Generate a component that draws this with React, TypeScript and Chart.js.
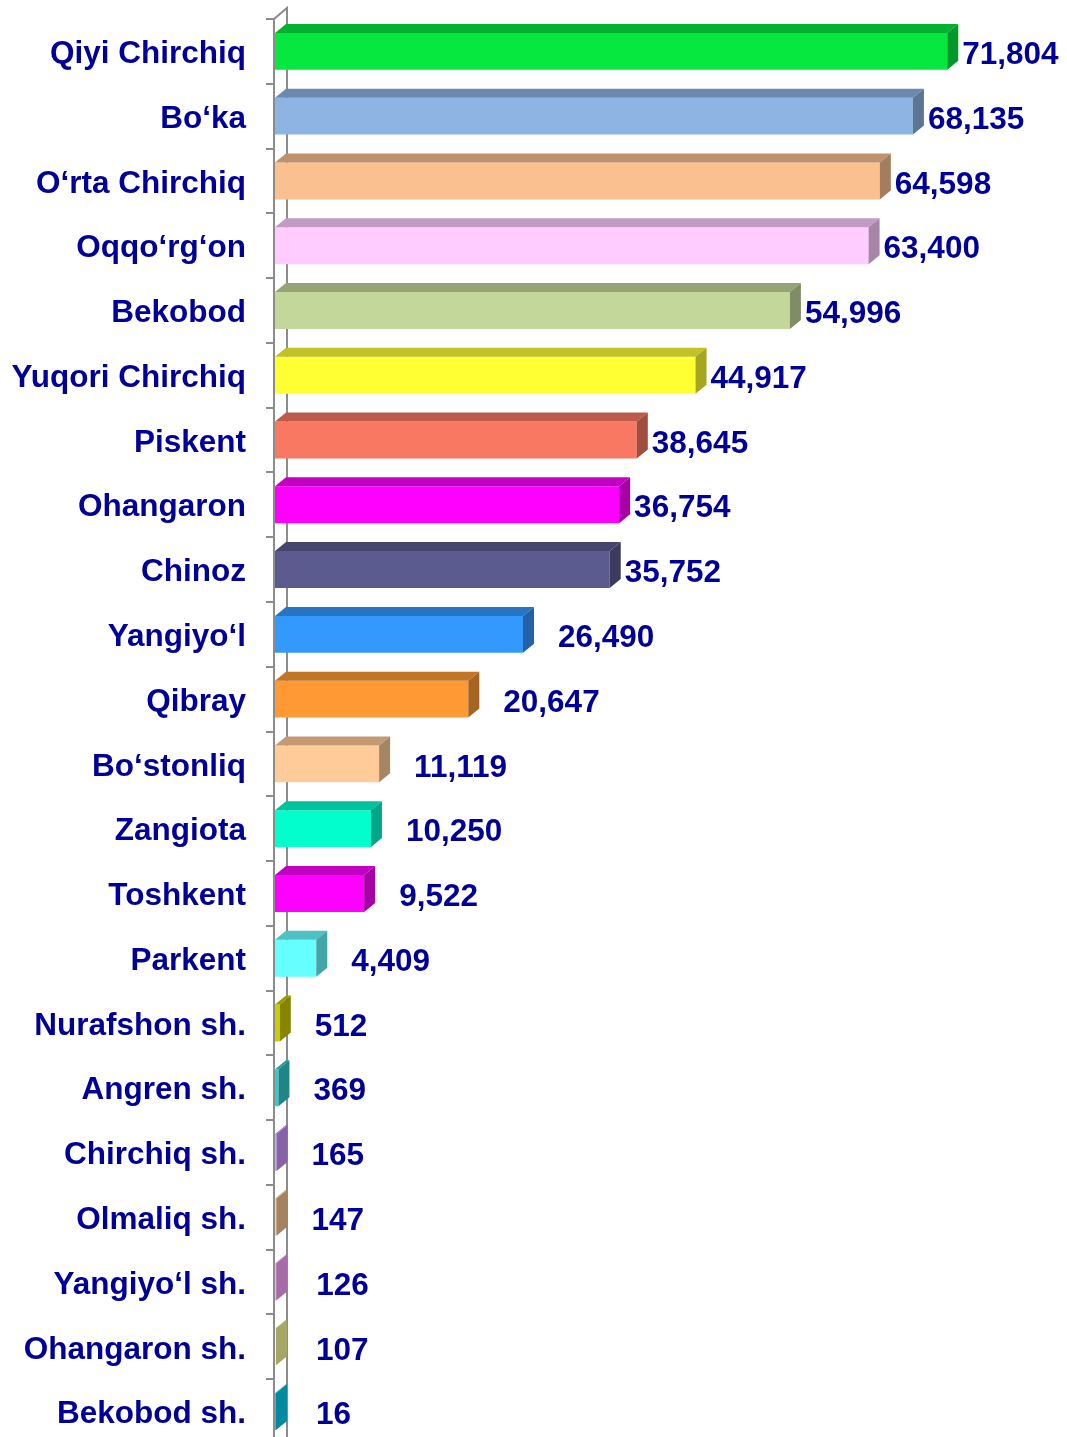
import React, { useEffect, useRef } from "react";
import { Chart, registerables } from "chart.js";

Chart.register(...registerables);

const categories = [
  "Qiyi Chirchiq", "Bo‘ka", "O‘rta Chirchiq", "Oqqo‘rg‘on", "Bekobod", "Yuqori Chirchiq",
  "Piskent", "Ohangaron", "Chinoz", "Yangiyo‘l", "Qibray", "Bo‘stonliq", "Zangiota",
  "Toshkent", "Parkent", "Nurafshon sh.", "Angren sh.", "Chirchiq sh.", "Olmaliq sh.",
  "Yangiyo‘l sh.", "Ohangaron sh.", "Bekobod sh.",
];

const values = [
  71804, 68135, 64598, 63400, 54996, 44917, 38645, 36754, 35752, 26490, 20647, 11119,
  10250, 9522, 4409, 512, 369, 165, 147, 126, 107, 16,
];

const frontColors = [
  "#06E840", "#8DB4E2", "#FAC090", "#FFCCFF", "#C4D79B", "#FFFF33", "#F87862", "#FF00FF",
  "#5B5B8F", "#3399FF", "#FF9933", "#FFCC99", "#00FFCC", "#FF00FF", "#66FFFF", "#CCCC00",
  "#33CCCC", "#CC99FF", "#FFCA92", "#FFA5FF", "#FFFF9C", "#00D2F5",
];

const TEXT_COLOR = "#000099";
const FONT = "bold 31.5px 'Liberation Sans', Arial, sans-serif";
const DX = 11;
const DY = 9;

function shade(hex: string, f: number): string {
  const n = parseInt(hex.slice(1), 16);
  const r = Math.round(((n >> 16) & 255) * f);
  const g = Math.round(((n >> 8) & 255) * f);
  const b = Math.round((n & 255) * f);
  return `rgb(${r},${g},${b})`;
}

const wallPlugin = {
  id: "wall",
  beforeDatasetsDraw(chart: any) {
    const { ctx, chartArea, scales } = chart;
    const yS = scales.y;
    const left = chartArea.left - 1;
    const top = chartArea.top;
    const bottom = chartArea.bottom;
    ctx.save();
    ctx.strokeStyle = "#8C8C8C";
    ctx.lineWidth = 2;
    ctx.beginPath();
    ctx.moveTo(left, bottom);
    ctx.lineTo(left, top);
    ctx.lineTo(left + 13, top - 11);
    ctx.lineTo(left + 13, bottom);
    ctx.stroke();
    ctx.beginPath();
    for (let i = 0; i <= categories.length; i++) {
      const yy = yS.getPixelForValue(i - 0.5);
      ctx.moveTo(left - 8, Math.round(yy));
      ctx.lineTo(left, Math.round(yy));
    }
    ctx.stroke();
    ctx.restore();
  },
};

const faces3dPlugin = {
  id: "faces3d",
  afterDatasetsDraw(chart: any) {
    const { ctx, scales } = chart;
    const meta = chart.getDatasetMeta(0);
    ctx.save();
    meta.data.forEach((bar: any, i: number) => {
      const { x, y, base, height } = bar.getProps(["x", "y", "base", "height"], true);
      const t = y - height / 2;
      const b = y + height / 2;
      const c = frontColors[i];
      ctx.fillStyle = shade(c, 0.76);
      ctx.beginPath();
      ctx.moveTo(base, t);
      ctx.lineTo(base + DX, t - DY);
      ctx.lineTo(x + DX, t - DY);
      ctx.lineTo(x, t);
      ctx.closePath();
      ctx.fill();
      ctx.fillStyle = shade(c, 0.65);
      ctx.beginPath();
      ctx.moveTo(x, t);
      ctx.lineTo(x + DX, t - DY);
      ctx.lineTo(x + DX, b - DY);
      ctx.lineTo(x, b);
      ctx.closePath();
      ctx.fill();
    });

    ctx.font = FONT;
    ctx.fillStyle = TEXT_COLOR;
    ctx.textBaseline = "middle";
    ctx.textAlign = "left";
    meta.data.forEach((bar: any, i: number) => {
      const { x, y } = bar.getProps(["x", "y"], true);
      const gap = values[i] >= 30000 ? 4 : values[i] < 140 ? 29 : 24;
      ctx.fillText(values[i].toLocaleString("en-US"), x + DX + gap, y + 4);
    });

    const yS = scales.y;
    ctx.textAlign = "right";
    categories.forEach((cat, i) => {
      ctx.fillText(cat, 246, yS.getPixelForValue(i) + 3);
    });
    ctx.restore();
  },
};

export default function App() {
  const ref = useRef<HTMLCanvasElement | null>(null);
  useEffect(() => {
    if (!ref.current) return;
    const chart = new Chart(ref.current, {
      type: "bar",
      data: {
        labels: categories,
        datasets: [
          {
            data: values,
            backgroundColor: frontColors,
            borderWidth: 0,
            barPercentage: 0.57,
            categoryPercentage: 1,
            minBarLength: 1,
          },
        ],
      },
      options: {
        indexAxis: "y",
        responsive: false,
        animation: false,
        devicePixelRatio: 1,
        layout: { padding: { left: 275, top: 19, right: 43, bottom: 6 } },
        plugins: { legend: { display: false }, tooltip: { enabled: false } },
        scales: {
          x: { display: false, min: 0, max: 80000 },
          y: { display: false },
        },
      },
      plugins: [wallPlugin, faces3dPlugin],
    });
    return () => chart.destroy();
  }, []);
  return (
    <div
      style={{
        position: "fixed",
        left: 0,
        top: 0,
        width: 1067,
        height: 1437,
        overflow: "hidden",
        background: "#fff",
      }}
    >
      <canvas ref={ref} width={1067} height={1450} style={{ display: "block" }} />
    </div>
  );
}
